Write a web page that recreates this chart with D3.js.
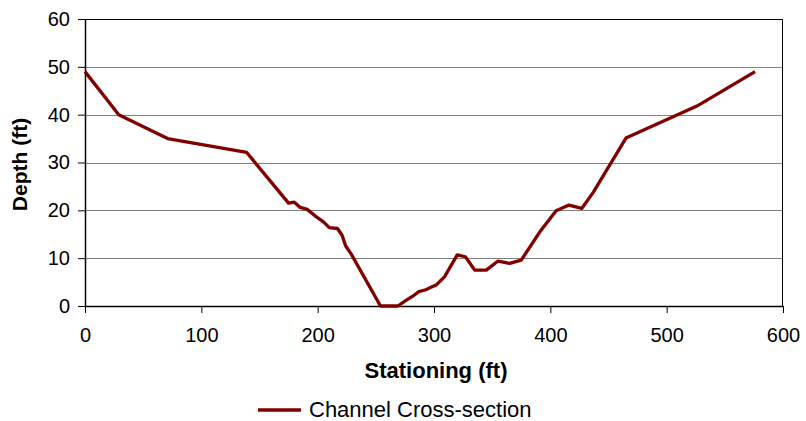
<!DOCTYPE html>
<html>
<head>
<meta charset="utf-8">
<script src="https://cdn.jsdelivr.net/npm/d3@7"></script>
<style>
  body { margin: 0; background: #fff; }
  text { font-family: "Liberation Sans", Arial, sans-serif; fill: #000; }
</style>
</head>
<body>
<div class="chart"></div>
<script>
var stations = [0, 29, 71, 139, 175, 180, 185, 191, 198, 205, 210, 217, 221, 224, 229, 254, 269, 275, 282, 287, 293, 298, 302, 309, 320, 327, 335, 345, 355, 365, 375, 391, 405, 416, 427, 437, 465, 526, 576];
var depths = [49, 40, 35, 32.1, 21.5, 21.7, 20.6, 20.2, 18.8, 17.6, 16.4, 16.2, 14.8, 12.6, 10.8, 0, 0, 1.0, 2.1, 3.0, 3.4, 4.0, 4.4, 6.1, 10.7, 10.3, 7.5, 7.5, 9.4, 8.9, 9.6, 15.5, 19.9, 21.1, 20.4, 23.8, 35.1, 41.8, 49];
var xTicks = [0, 100, 200, 300, 400, 500, 600];
var yTicks = [0, 10, 20, 30, 40, 50, 60];
var seriesName = 'Channel Cross-section';

(() => {
var margin = {top: 19, right: 23, bottom: 115, left: 85},
    width = 806 - margin.left - margin.right,
    height = 421 - margin.top - margin.bottom;

var svg = d3.select('div.chart')
    .append('svg')
        .attr('width', 806)
        .attr('height', 421)
    .append('g')
        .attr('transform', 'translate(' + margin.left + ',' + margin.top + ')');

var x = d3.scaleLinear().domain([0, 600]).range([0, width]);
var y = d3.scaleLinear().domain([0, 60]).range([height, 0]);

// gridlines
svg.append('g')
    .selectAll('line')
    .data(yTicks.filter((d) => d > 0 && d < 60))
    .enter()
    .append('line')
        .attr('x1', 0)
        .attr('x2', width)
        .attr('y1', (d) => Math.round(y(d)) + 0.5)
        .attr('y2', (d) => Math.round(y(d)) + 0.5)
        .attr('stroke', '#808080')
        .attr('stroke-width', 1);

// top and right border
svg.append('line')
    .attr('x1', 0).attr('x2', width)
    .attr('y1', 0.5).attr('y2', 0.5)
    .attr('stroke', '#000');
svg.append('line')
    .attr('x1', width - 0.5).attr('x2', width - 0.5)
    .attr('y1', 0).attr('y2', height)
    .attr('stroke', '#000');

var xAxis = svg.append('g')
    .attr('transform', 'translate(0,' + height + ')')
    .call(d3.axisBottom(x).tickValues(xTicks).tickSize(7).tickPadding(15).tickSizeOuter(0));
var yAxis = svg.append('g')
    .call(d3.axisLeft(y).tickValues(yTicks).tickSize(7).tickPadding(8).tickSizeOuter(0));

[xAxis, yAxis].forEach((g) => {
    g.select('.domain').attr('stroke', '#000').attr('stroke-width', 1.5);
    g.selectAll('.tick line').attr('stroke', '#000');
    g.selectAll('text')
        .style('font-size', '20px')
        .style('font-family', '"Liberation Sans", Arial, sans-serif')
        .attr('fill', '#000');
});

var points = stations.map((s, i) => [s, depths[i]]);

svg.append('path')
    .datum(points)
    .attr('fill', 'none')
    .attr('stroke', '#800000')
    .attr('stroke-width', 3.3)
    .attr('stroke-linejoin', 'round')
    .attr('d', d3.line().x((d) => x(d[0])).y((d) => y(d[1])));

svg.append('text')
    .attr('x', width / 2 + 2)
    .attr('y', height + 72)
    .attr('text-anchor', 'middle')
    .style('font-size', '22px')
    .style('font-weight', 'bold')
    .text('Stationing (ft)');

svg.append('text')
    .attr('transform', 'translate(' + (-58) + ',' + (height / 2 + 2) + ') rotate(-90)')
    .attr('text-anchor', 'middle')
    .style('font-size', '21px')
    .style('font-weight', 'bold')
    .text('Depth (ft)');

// legend
var legend = svg.append('g')
    .attr('transform', 'translate(' + (258 - margin.left) + ',' + (410 - margin.top) + ')');
legend.append('line')
    .attr('x1', 0).attr('x2', 43)
    .attr('y1', 0).attr('y2', 0)
    .attr('stroke', '#800000')
    .attr('stroke-width', 3.3);
legend.append('text')
    .attr('x', 51)
    .attr('y', 7)
    .style('font-size', '22px')
    .text(seriesName);
})();
</script>
</body>
</html>
